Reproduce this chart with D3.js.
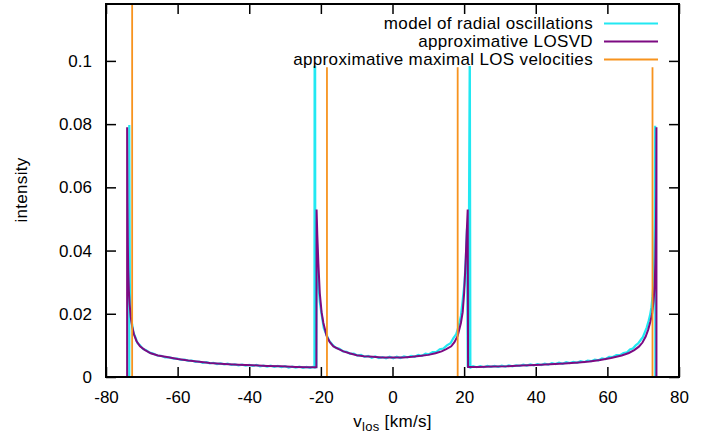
<!DOCTYPE html>
<html>
<head>
<meta charset="utf-8">
<script src="https://cdn.jsdelivr.net/npm/d3@7"></script>
<style>
  html, body { margin: 0; padding: 0; background: #fff; }
  svg { display: block; }
  text { font-family: "Liberation Sans", Arial, Helvetica, sans-serif; fill: #000; }
</style>
</head>
<body>
<svg id="chart" width="711" height="437"></svg>
<script>
// ---------------- data ----------------
const xTicks = [-80, -60, -40, -20, 0, 20, 40, 60, 80];
const yTicks = [0, 0.02, 0.04, 0.06, 0.08, 0.1];
const yTickLabels = ["0", "0.02", "0.04", "0.06", "0.08", "0.1"];
const seriesNames = ["model of radial oscillations", "approximative LOSVD", "approximative maximal LOS velocities"];

// model of radial oscillations (noisy histogram)
const modelV = [
  -73.5, -73.5, -73.35, -73.2, -73.0, -72.7, -72.3, -71.8, -71.2, -70.5, -69.7, -68.8, -67.8, -66.8, -65.7, -64.6, -63.5, -62.3, -61.1,
  -60, -59, -58, -57, -56, -55, -54, -53, -52, -51, -50, -49, -48, -47, -46, -45, -44, -43, -42, -41, -40, -39, -38, -37, -36, -35,
  -34, -33, -32, -31, -30, -29, -28, -27, -26, -25, -24, -23, -22.3, -21.8, -21.75, -21.6, -21.55, -21.25,
  -21.2, -21.0, -20.7, -20.3, -19.8, -19.2, -18.5, -17.7, -16.8, -15.8, -14.8, -13.8, -12.8, -11.8, -10.8, -9.8, -8.8, -7.8, -6.8,
  -5.8, -4.8, -3.8, -2.8, -1.8, -0.8, 0.2, 1.2, 2.2, 3.2, 4.2, 5.2, 6.2, 7.2, 8.2, 9.2, 10.2, 11.2, 12.2, 13.2, 14.2, 15.2, 16.2,
  17.0, 17.8, 18.5, 19.1, 19.6, 20.1, 20.5, 20.8, 21.0, 21.15, 21.55, 21.6, 21.75, 21.8,
  22.5, 23.5, 24.5, 25.5, 26.5, 27.5, 28.5, 29.5, 30.5, 31.5, 32.5, 33.5, 34.5, 35.5, 36.5, 37.5, 38.5, 39.5, 40.5, 41.5, 42.5,
  43.5, 44.5, 45.5, 46.5, 47.5, 48.5, 49.5, 50.5, 51.5, 52.5, 53.5, 54.5, 55.5, 56.5, 57.5, 58.5, 59.5, 60.5, 61.5, 62.5, 63.5,
  64.5, 65.5, 66.3, 67.1, 67.9, 68.6, 69.3, 69.9, 70.5, 71.0, 71.5, 71.9, 72.3, 72.6, 72.9, 73.1, 73.25, 73.35, 73.4, 73.4
];
const modelI = [
  0, 0.0797, 0.030, 0.0225, 0.0192, 0.0166, 0.0139, 0.0126, 0.0107, 0.0100, 0.0089, 0.0085, 0.0077, 0.0074, 0.0068, 0.0067, 0.0062, 0.0062, 0.0058,
  0.0058, 0.0054, 0.0055, 0.0051, 0.0052, 0.0048, 0.0049, 0.0045, 0.0047, 0.0043, 0.0045, 0.0041, 0.0043, 0.0040, 0.0042, 0.0038, 0.0040, 0.0037, 0.0039, 0.0036, 0.0038, 0.0035, 0.0038, 0.0034, 0.0036, 0.0033,
  0.0036, 0.0032, 0.0035, 0.0031, 0.0034, 0.0030, 0.0033, 0.0030, 0.0033, 0.0029, 0.0032, 0.0029, 0.0032, 0.0030, 0.098, 0.098, 0.0031, 0.0032,
  0.048, 0.037, 0.0295, 0.0238, 0.0198, 0.0155, 0.0135, 0.0115, 0.0103, 0.0092, 0.0089, 0.0081, 0.0080, 0.0073, 0.0074, 0.0068, 0.0070, 0.0064, 0.0067,
  0.0061, 0.0065, 0.0060, 0.0063, 0.0059, 0.0064, 0.0059, 0.0064, 0.0060, 0.0065, 0.0062, 0.0067, 0.0064, 0.0070, 0.0067, 0.0074, 0.0072, 0.0079, 0.0079, 0.0088, 0.0090, 0.0100,
  0.0107, 0.0123, 0.0136, 0.0162, 0.0193, 0.0243, 0.0298, 0.0380, 0.0470, 0.0034, 0.0033, 0.098, 0.098, 0.0033,
  0.0030, 0.0034, 0.0031, 0.0034, 0.0031, 0.0035, 0.0032, 0.0035, 0.0032, 0.0036, 0.0033, 0.0037, 0.0034, 0.0037, 0.0035, 0.0039, 0.0036, 0.0040, 0.0037, 0.0041, 0.0038,
  0.0042, 0.0039, 0.0044, 0.0041, 0.0045, 0.0042, 0.0047, 0.0044, 0.0048, 0.0045, 0.0050, 0.0047, 0.0052, 0.0050, 0.0055, 0.0053, 0.0059, 0.0057, 0.0064, 0.0063, 0.0069,
  0.0069, 0.0076, 0.0078, 0.0087, 0.0090, 0.0100, 0.0106, 0.0117, 0.0126, 0.0143, 0.0157, 0.0177, 0.0195, 0.0221, 0.0255, 0.0300, 0.0380, 0.0500, 0.0795, 0
];

// approximative LOSVD (smooth)
const losvdV = [
  -74.1, -74.1, -74.0, -73.9, -73.8, -73.6, -73.4, -73.1, -72.7, -72.2, -71.5, -70.5, -69.2, -67.5, -65.5, -63, -60, -57, -54, -51,
  -47, -43, -39, -35, -31, -27, -24, -21.25, -21.2, -21.0, -20.7, -20.3, -19.8, -19.3, -18.4, -17.5, -16.5, -15, -13.7, -12, -10,
  -8, -5.5, -3, 0, 3, 5.5, 8, 10, 12, 13.7, 15, 16.4, 17.3, 18.2, 19.1, 19.6, 20.0, 20.4, 20.7, 21.0, 21.1,
  24, 28, 32, 36, 40, 44, 48, 52, 55, 58, 61, 64, 66, 67.5, 68.8, 69.8, 70.7, 71.4, 72.0, 72.5, 72.9, 73.2, 73.4, 73.55, 73.65, 73.7, 73.7
];
const losvdI = [
  0, 0.079, 0.055, 0.042, 0.034, 0.027, 0.023, 0.019, 0.016, 0.0135, 0.0114, 0.0097, 0.0086, 0.0075, 0.0068, 0.0063, 0.0057, 0.0052, 0.0048, 0.0044,
  0.0041, 0.0039, 0.0037, 0.0035, 0.0034, 0.0032, 0.0031, 0.0031, 0.053, 0.045, 0.036, 0.0265, 0.0205, 0.0171, 0.0130, 0.0110, 0.0097, 0.0088, 0.0081, 0.0075, 0.0069,
  0.0066, 0.0064, 0.0062, 0.0062, 0.0062, 0.0064, 0.0067, 0.0070, 0.0075, 0.0081, 0.0088, 0.0097, 0.0110, 0.0130, 0.0171, 0.0205, 0.0265, 0.036, 0.045, 0.053, 0.0032,
  0.0032, 0.0033, 0.0034, 0.0036, 0.0038, 0.0040, 0.0043, 0.0046, 0.0049, 0.0054, 0.0060, 0.0068, 0.0076, 0.0085, 0.0096, 0.0109, 0.0128, 0.0150, 0.0175, 0.020, 0.024, 0.029, 0.036, 0.047, 0.060, 0.079, 0
];

// approximative maximal LOS velocities (vertical markers)
const maxV = [-72.7, -18.3, 18.2, 72.6];
const maxI = [0.125, 0.098, 0.098, 0.098];

// ---------------- layout ----------------
const svg = d3.select("#chart");
const L = 106, R = 679, T = 4, B = 377;
const x = d3.scaleLinear().domain([-80, 80]).range([L, R]);
const y = d3.scaleLinear().domain([0, 0.118]).range([B, T]);

const cCyan = "#22e8f2", cPurple = "#7d0a82", cOrange = "#f7931e";

svg.append("defs").append("clipPath").attr("id", "clip")
  .append("rect").attr("x", L).attr("y", T).attr("width", R - L).attr("height", B - T);

const plot = svg.append("g").attr("clip-path", "url(#clip)");

const line = d3.line().x(d => x(d[0])).y(d => y(d[1]));

const modelData = modelV.map((v, i) => [v, modelI[i]]);
const losvdData = losvdV.map((v, i) => [v, losvdI[i]]);

plot.append("path").datum(modelData).attr("d", line)
  .attr("fill", "none").attr("stroke", cCyan).attr("stroke-width", 2.2).attr("stroke-linejoin", "miter");
plot.append("path").datum(losvdData).attr("d", line)
  .attr("fill", "none").attr("stroke", cPurple).attr("stroke-width", 2).attr("stroke-linejoin", "miter");
plot.selectAll("line.max").data(maxV).enter().append("line").attr("class", "max")
  .attr("x1", d => x(d)).attr("x2", d => x(d))
  .attr("y1", y(0)).attr("y2", (d, i) => y(maxI[i]))
  .attr("stroke", cOrange).attr("stroke-width", 1.8);

// ---------------- axes ----------------
const fs = 17;
const axB = d3.axisBottom(x).tickValues(xTicks).tickSizeInner(-10).tickSizeOuter(0).tickPadding(14).tickFormat(d => d3.format("d")(d).replace("−", "-"));
const axT = d3.axisTop(x).tickValues(xTicks).tickSizeInner(-10).tickSizeOuter(0).tickFormat("");
const axL = d3.axisLeft(y).tickValues(yTicks).tickSizeInner(-10).tickSizeOuter(0).tickPadding(14).tickFormat((d, i) => yTickLabels[i]);
const axR = d3.axisRight(y).tickValues(yTicks).tickSizeInner(-10).tickSizeOuter(0).tickFormat("");

function style(g) {
  g.select(".domain").remove();
  g.selectAll(".tick line").attr("stroke", "#000").attr("stroke-width", 1.5);
  g.selectAll(".tick text").attr("font-size", fs).attr("font-family", "Liberation Sans, Arial, sans-serif").attr("fill", "#000");
}
svg.append("g").attr("transform", `translate(0,${B})`).call(axB).call(style);
svg.append("g").attr("transform", `translate(0,${T})`).call(axT).call(style);
svg.append("g").attr("transform", `translate(${L},0)`).call(axL).call(style);
svg.append("g").attr("transform", `translate(${R},0)`).call(axR).call(style);

// border
svg.append("rect").attr("x", L).attr("y", T).attr("width", R - L).attr("height", B - T)
  .attr("fill", "none").attr("stroke", "#000").attr("stroke-width", 2);

// axis labels
const xl = svg.append("text").attr("x", x(0)).attr("y", 427).attr("text-anchor", "middle")
  .attr("font-size", fs).attr("letter-spacing", "0.3px");
xl.append("tspan").text("v");
xl.append("tspan").attr("font-size", 13).attr("dy", 4).text("los");
xl.append("tspan").attr("dy", -4).text(" [km/s]");

svg.append("text").attr("transform", `translate(27,190) rotate(-90)`)
  .attr("text-anchor", "middle").attr("font-size", fs).attr("letter-spacing", "0.3px").text("intensity");

// legend
const legColors = [cCyan, cPurple, cOrange];
const legY = [23.5, 41.5, 59.5];
const leg = svg.append("g");
seriesNames.forEach((n, i) => {
  leg.append("text").attr("x", 593).attr("y", legY[i]).attr("dy", "0.35em")
    .attr("text-anchor", "end").attr("font-size", fs).attr("letter-spacing", "0.35px").text(n);
  leg.append("line").attr("x1", 604).attr("x2", 658).attr("y1", legY[i]).attr("y2", legY[i])
    .attr("stroke", legColors[i]).attr("stroke-width", 2);
});
</script>
</body>
</html>
